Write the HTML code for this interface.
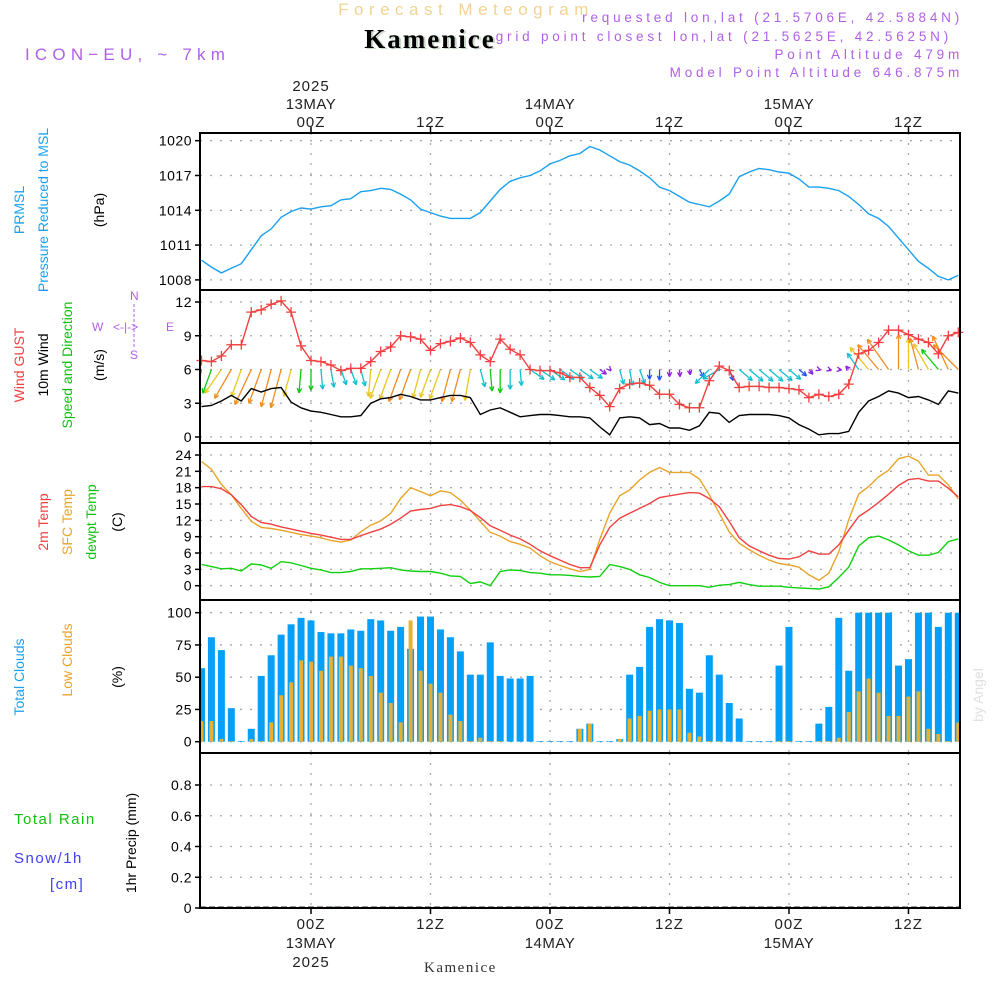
<!DOCTYPE html>
<html><head><meta charset="utf-8"><style>
body{margin:0;background:#fff;}
svg{display:block;font-family:"Liberation Sans",sans-serif;}
</style></head><body>
<svg id="chart" width="1000" height="1000" viewBox="0 0 1000 1000" xmlns="http://www.w3.org/2000/svg">
<rect width="1000" height="1000" fill="#fff"/>
<text x="466" y="15" text-anchor="middle" font-size="17" fill="#f2d394" letter-spacing="5.5">Forecast Meteogram</text>
<text x="432" y="49" text-anchor="middle" font-size="27" font-weight="bold" font-family="Liberation Serif,serif" fill="#c9d7c9" letter-spacing="2">Kamenice</text>
<text x="430" y="48" text-anchor="middle" font-size="27" font-weight="bold" font-family="Liberation Serif,serif" fill="#000" letter-spacing="2">Kamenice</text>
<text x="25" y="60" font-size="17" fill="#b060e8" letter-spacing="5.2">ICON−EU, ~ 7km</text>
<g font-size="13.5" fill="#b060e8" text-anchor="end" letter-spacing="3.8">
<text x="963" y="22">requested lon,lat (21.5706E, 42.5884N)</text>
<text x="952" y="41">grid point closest lon,lat (21.5625E, 42.5625N)</text>
<text x="963" y="59">Point Altitude 479m</text>
<text x="963" y="77">Model Point Altitude 646.875m</text>
</g>
<g id="axes"></g>
<g id="labels"></g>
</svg>
<script>
const hours=[...Array(77).keys()];
const pressure=[1009.7,1009.1,1008.6,1009.0,1009.4,1010.6,1011.8,1012.4,1013.4,1013.9,1014.2,1014.1,1014.3,1014.4,1014.9,1015.0,1015.6,1015.7,1015.9,1015.8,1015.4,1014.9,1014.1,1013.8,1013.5,1013.3,1013.3,1013.3,1013.8,1014.8,1015.8,1016.5,1016.8,1017.0,1017.4,1018.0,1018.3,1018.7,1018.9,1019.5,1019.2,1018.7,1018.2,1017.9,1017.4,1016.8,1016.0,1015.7,1015.2,1014.7,1014.5,1014.3,1014.8,1015.4,1016.9,1017.3,1017.6,1017.5,1017.3,1017.2,1016.7,1016.0,1016.0,1015.9,1015.7,1015.2,1014.5,1013.7,1013.3,1012.6,1011.6,1010.6,1009.6,1009.0,1008.3,1008.0,1008.4];
const gust=[6.8,6.7,7.2,8.2,8.2,11.1,11.3,11.8,12.1,11.1,8.1,6.8,6.7,6.4,5.9,6.1,6.1,6.7,7.6,8.0,9.0,8.9,8.7,7.7,8.3,8.5,8.8,8.4,7.3,6.7,8.7,7.8,7.3,6.0,5.9,5.9,5.7,5.3,5.3,4.4,3.7,2.7,4.3,4.7,4.8,4.6,3.8,3.8,2.9,2.6,2.6,5.0,6.3,5.9,4.4,4.5,4.5,4.4,4.4,4.3,4.2,3.5,3.8,3.6,3.8,4.7,7.4,7.7,8.4,9.5,9.5,9.1,8.7,8.4,7.4,9.0,9.3];
const wind10=[2.7,2.8,3.2,3.7,3.2,4.3,4.0,4.3,4.4,3.1,2.6,2.3,2.2,2.0,1.8,1.8,1.9,3.0,3.4,3.5,3.8,3.6,3.3,3.3,3.5,3.7,3.7,3.5,2.0,2.4,2.6,2.2,1.8,1.9,2.0,2.0,1.9,1.8,1.8,1.7,0.9,0.2,1.7,1.8,1.7,1.1,1.2,0.8,0.8,0.6,1.0,2.2,2.1,1.3,1.9,2.0,2.0,2.0,1.9,1.7,1.1,0.7,0.2,0.3,0.3,0.5,2.2,3.2,3.6,4.1,3.9,3.5,3.6,3.3,2.9,4.1,3.9];
const windTo=[190,200,215,210,200,205,200,195,195,195,185,180,175,170,160,160,165,185,200,200,200,200,195,200,200,195,195,190,165,175,180,180,175,125,125,125,125,125,125,125,125,140,165,170,160,180,180,180,175,170,150,225,240,160,130,130,130,130,130,130,130,140,110,110,100,320,325,320,320,325,0,0,345,330,320,335,315];
const temp2m=[18.2,18.2,17.8,16.7,14.9,12.7,11.6,11.3,10.8,10.4,10.0,9.6,9.3,8.9,8.5,8.5,9.2,9.8,10.4,11.3,12.4,13.7,14.0,14.2,14.7,14.9,14.5,13.8,12.5,11.0,10.2,9.3,8.6,7.6,6.4,5.5,4.7,3.9,3.3,3.3,7.5,10.7,12.4,13.3,14.2,15.1,16.2,16.5,16.8,17.1,17.0,16.0,14.5,11.8,8.8,7.3,6.4,5.6,5.0,4.9,5.3,6.4,5.8,5.8,7.5,10.2,12.7,13.9,15.3,16.8,18.4,19.5,19.7,19.2,19.2,17.9,16.3];
const tempSfc=[22.8,21.4,18.6,16.7,14.2,11.8,10.7,10.5,10.2,9.8,9.4,9.1,8.8,8.3,8.0,8.4,9.9,11.1,11.9,13.3,16.0,18.0,17.3,16.5,17.4,17.1,15.7,13.9,11.8,9.8,9.1,8.1,7.6,6.9,5.5,4.4,3.7,3.1,2.6,3.0,8.5,13.3,16.5,17.6,19.4,20.8,21.7,20.8,20.8,20.8,19.6,16.7,13.3,9.9,7.8,6.6,5.6,4.7,4.1,3.8,3.4,2.0,1.0,2.3,6.2,12.1,16.8,18.2,20.0,21.2,23.3,23.8,22.9,20.3,20.3,18.5,15.9];
const dewpt=[3.9,3.5,3.1,3.2,2.7,4.0,3.8,3.2,4.4,4.2,3.7,3.2,2.9,2.4,2.4,2.6,3.1,3.1,3.2,3.3,2.9,2.7,2.6,2.6,2.3,1.8,1.7,0.4,0.7,0.0,2.6,2.9,2.8,2.4,2.3,2.0,2.0,1.9,1.7,1.6,1.7,3.9,3.5,3.0,2.0,1.5,0.6,0.0,0.0,0.0,0.0,-0.3,0.1,0.2,0.6,0.2,-0.1,-0.1,-0.1,-0.3,-0.4,-0.5,-0.6,-0.2,1.5,3.4,7.3,8.8,9.1,8.4,7.5,6.4,5.6,5.6,6.1,8.1,8.6];
const totalClouds=[57,81,71,26,0.5,10,51,67,83,91,96,94,85,84,84,87,86,95,94,86,89,72,97,97,87,81,70,52,52,77,51,49,49,51,0.5,0.5,0.5,0.5,10,14,0.5,0.5,2,52,58,89,95,94,92,41,38,67,52,30,18,0.5,0.5,0.5,59,89,0.5,0.5,14,27,96,55,100,100,100,100,59,64,100,100,89,100,100];
const lowClouds=[16,16,2,0.5,0,2,0.5,15,36,46,63,62,55,66,66,59,57,51,38,30,15,94,55,45,38,21,16,0.5,3,0.5,0.5,0,0,0,0,0,0,0,10,14,0,0,2,18,20,24,25,25,25,7,4,0.5,0.5,0,0,0,0,0,0.5,0.5,0,0,0.5,0.5,3,23,39,49,38,20,20,35,39,10,6,0.5,15];
const rain=[0,0,0,0,0,0,0,0,0,0,0,0,0,0.005,0.005,0,0,0,0,0,0,0,0,0,0,0,0,0,0,0,0,0,0,0,0,0,0,0,0,0,0,0,0,0,0,0,0,0,0,0,0,0,0,0,0,0,0,0,0,0,0,0,0,0,0,0,0,0,0,0,0,0,0,0,0,0,0];
const pTicks=[1008,1011,1014,1017,1020];
const wTicks=[0,3,6,9,12];
const tTicks=[0,3,6,9,12,15,18,21,24];
const cTicks=[0,25,50,75,100];
const rTicks=[0,0.2,0.4,0.6,0.8];
const timeTicks=[11,23,35,47,59,71];
const timeLabels=["00Z","12Z","00Z","12Z","00Z","12Z"];
const dayLabels=["13MAY","","14MAY","","15MAY",""];

const NS="http://www.w3.org/2000/svg";
const svg=document.getElementById('chart');
const X0=200,X1=960;
const xs=i=>311+(i-11)*9.958;
const yP=p=>140.7+(1020-p)*11.6;
const yW=v=>437-v*11.25;
const yT=t=>585.7-t*5.446;
const yC=c=>741.7-c*1.29;
const yR=r=>908-r*153.75;
function el(tag,attrs,parent){const e=document.createElementNS(NS,tag);for(const k in attrs)e.setAttribute(k,attrs[k]);(parent||svg).appendChild(e);return e;}
function txt(s,attrs,parent){const e=el('text',attrs,parent);e.textContent=s;return e;}
const panels=[{top:133,bot:290,ticks:pTicks,f:yP,fmt:v=>v},{top:290,bot:443,ticks:wTicks,f:yW,fmt:v=>v},{top:443,bot:600,ticks:tTicks,f:yT,fmt:v=>v},{top:600,bot:753,ticks:cTicks,f:yC,fmt:v=>v},{top:753,bot:908,ticks:rTicks,f:yR,fmt:v=>v===0?'0':v.toFixed(1)}];
const gridG=el('g',{});


panels.forEach((p,k)=>{
  p.ticks.forEach(t=>{
    const y=p.f(t);
    const g=el('line',{x1:X0,x2:X1,y1:y,y2:y,stroke:'#a8a8a8','stroke-width':1.3,'stroke-dasharray':'2,8'},gridG);
    
    
    const tk=el('line',{x1:X0-5,x2:X0,y1:y,y2:y,stroke:'#000','stroke-width':1.5});
    
    
    const lb=txt(String(p.fmt(t)),{x:X0-8,y:y+5,'text-anchor':'end','font-size':14,fill:'#000','letter-spacing':0.5});
    
    
  });
  timeTicks.forEach(i=>{
    const x=xs(i);
    const g=el('line',{x1:x,x2:x,y1:p.top,y2:p.bot,stroke:'#a8a8a8','stroke-width':1.3,'stroke-dasharray':'2,8'},gridG);
    
    
  });
});
function line(arr,f,color,name,w){
  const pts=arr.map((v,i)=>xs(i).toFixed(1)+','+f(v).toFixed(1)).join(' ');
  const l=el('polyline',{points:pts,fill:'none',stroke:color,'stroke-width':w||1.4,'clip-path':'url(#clipPlot)'});
  
  
  return l;
}
const defs=el('defs',{});
const cp=el('clipPath',{id:'clipPlot'},defs);
el('rect',{x:X0,y:0,width:X1-X0,height:1000},cp);
line(pressure,yP,'#1aa0f0','pressure-line');
function spdColor(s){if(s<1)return '#9020e0';if(s<1.5)return '#2050f0';if(s<2.3)return '#10c0d0';if(s<3)return '#10c810';if(s<3.6)return '#e8c820';return '#f08c20';}
const arrG=el('g',{'clip-path':'url(#clipPlot)'});


hours.forEach(i=>{
  const s=wind10[i],a=windTo[i]*Math.PI/180,len=s*9;
  const x0=xs(i),y0=yW(6);
  const x1=x0+Math.sin(a)*len,y1=y0-Math.cos(a)*len;
  const c=spdColor(s);
  const g=el('g',{stroke:c,'stroke-width':1.3,fill:'none'},arrG);
  
  
  el('line',{x1:x0,y1:y0,x2:x1,y2:y1},g);
  const h=5;
  [0.45,-0.45].forEach(d=>{
    const b=a+Math.PI+d;
    el('line',{x1:x1,y1:y1,x2:x1+Math.sin(b)*h,y2:y1-Math.cos(b)*h},g);
  });
});
line(wind10,yW,'#000','wind-10m-line');
line(gust,yW,'#f04040','wind-gust-line');
const gm=el('g',{stroke:'#f04040','stroke-width':1.3});


gust.forEach((v,i)=>{const x=xs(i),y=yW(v);
  const m=el('path',{d:`M${x-5},${y}H${x+5}M${x},${y-5}V${y+5}`},gm);
  
  
});
line(tempSfc,yT,'#e8a428','sfc-temp-line');
line(temp2m,yT,'#f04040','temp-2m-line');
line(dewpt,yT,'#10d010','dewpoint-line');
const cg=el('g',{'clip-path':'url(#clipPlot)'});


hours.forEach(i=>{
  const x=xs(i);
  const b=el('rect',{x:x-3.5,y:yC(totalClouds[i]),width:7,height:yC(0)-yC(totalClouds[i]),fill:'#06a0f8'},cg);
  
  
  const l=el('rect',{x:x-2,y:yC(lowClouds[i]),width:4,height:yC(0)-yC(lowClouds[i]),fill:'#e8b030'},cg);
  
  
});
line(rain,yR,'#10c010','rain-line',1.2);
el('line',{x1:X0,x2:X1,y1:907,y2:907,stroke:'#333','stroke-width':1,'stroke-dasharray':'6,3'});
panels.forEach(p=>{
  const r=el('rect',{x:X0,y:p.top,width:X1-X0,height:p.bot-p.top,fill:'none',stroke:'#000','stroke-width':2});
  
  
});
timeTicks.forEach((i,k)=>{
  const x=xs(i);
  el('line',{x1:x,x2:x,y1:127,y2:133,stroke:'#000','stroke-width':1.5});
  el('line',{x1:x,x2:x,y1:908,y2:914,stroke:'#000','stroke-width':1.5});
  const a=txt(timeLabels[k],{x:x,y:127,'text-anchor':'middle','font-size':15,fill:'#222','letter-spacing':1});
  
  
  const b=txt(timeLabels[k],{x:x,y:929,'text-anchor':'middle','font-size':15,fill:'#222','letter-spacing':1});
  
  
  if(dayLabels[k]){
    const c=txt(dayLabels[k],{x:x,y:109,'text-anchor':'middle','font-size':15,fill:'#222','letter-spacing':0.5});
    
    
    const d=txt(dayLabels[k],{x:x,y:948,'text-anchor':'middle','font-size':15,fill:'#222','letter-spacing':0.5});
    
    
  }
});
const y1=txt('2025',{x:xs(11),y:91,'text-anchor':'middle','font-size':15,fill:'#222','letter-spacing':1});


const y2=txt('2025',{x:xs(11),y:967,'text-anchor':'middle','font-size':15,fill:'#222','letter-spacing':1});


</script>
<script>
(function(){
const svg=document.getElementById('chart');const NS="http://www.w3.org/2000/svg";
function vt(s,x,y,color,name,size){const e=document.createElementNS(NS,'text');
e.setAttribute('transform',`translate(${x},${y}) rotate(-90)`);e.setAttribute('text-anchor','middle');
e.setAttribute('font-size',size||14);e.setAttribute('fill',color);e.textContent=s;


svg.appendChild(e);}
vt('PRMSL',24,210,'#1aa0f0','prmsl-label');
vt('Pressure Reduced to MSL',48,210,'#1aa0f0','pressure-axis-title');
vt('(hPa)',104,210,'#000','pressure-unit');
vt('Wind GUST',24,365,'#f04040','gust-label');
vt('10m Wind',48,365,'#000','wind-label');
vt('Speed and Direction',72,365,'#10c010','wind-axis-title');
vt('(m/s)',104,365,'#000','wind-unit');
vt('2m Temp',48,522,'#f04040','temp-2m-label');
vt('SFC Temp',72,522,'#e8a428','sfc-temp-label');
vt('dewpt Temp',96,522,'#10c010','dewpoint-label');
vt('(C)',122,522,'#000','temp-unit');
vt('Total Clouds',24,677,'#1aa0f0','total-clouds-label');
vt('Low Clouds',72,660,'#e8a428','low-clouds-label');
vt('(%)',122,677,'#000','clouds-unit');
vt('1hr Precip (mm)',136,843,'#000','precip-axis-title');
vt('by Angel',983,695,'#e0e0e0','watermark',14);
function ht(s,x,y,color,name,size,extra){const e=document.createElementNS(NS,'text');e.setAttribute('x',x);e.setAttribute('y',y);e.setAttribute('font-size',size||14);e.setAttribute('fill',color);e.setAttribute('letter-spacing',1.5);e.textContent=s;


if(extra)for(const k in extra)e.setAttribute(k,extra[k]);svg.appendChild(e);}
ht('Total  Rain',14,824,'#10c010','rain-legend',15,{'xml:space':'preserve'});
ht('Snow/1h',14,863,'#4040f0','snow-legend',15);
ht('[cm]',50,889,'#4040f0','snow-unit',15);
ht('Kamenice',424,972,'#333','bottom-location',15,{'font-family':'Liberation Serif,serif'});
const g=document.createElementNS(NS,'g');g.setAttribute('fill','#b060e8');g.setAttribute('font-size',12);


svg.appendChild(g);
[['W',92,331],['<-|->',113,331],['E',166,331],['N',130,300],['S',130,359]].forEach(a=>{const t=document.createElementNS(NS,'text');t.setAttribute('x',a[1]);t.setAttribute('y',a[2]);t.textContent=a[0];g.appendChild(t);});
const l=document.createElementNS(NS,'line');l.setAttribute('x1',134);l.setAttribute('x2',134);l.setAttribute('y1',304);l.setAttribute('y2',347);l.setAttribute('stroke','#b060e8');l.setAttribute('stroke-dasharray','3,2');g.appendChild(l);
})();
</script>
</body></html>
